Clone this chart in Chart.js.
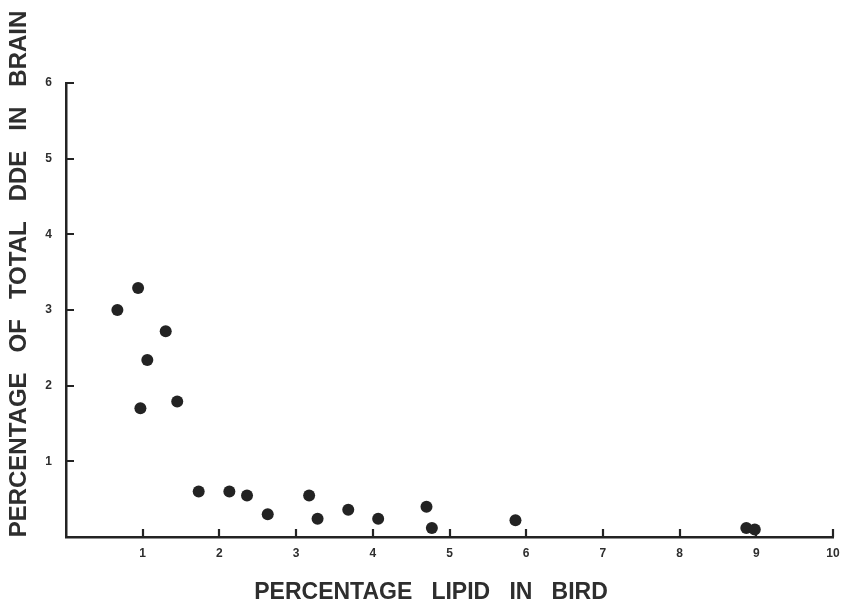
<!DOCTYPE html>
<html>
<head>
<meta charset="utf-8">
<title>DDE in brain vs lipid</title>
<script src="https://cdn.jsdelivr.net/npm/chart.js@4/dist/chart.umd.min.js"></script>
<style>
  html, body { margin: 0; padding: 0; background: #ffffff; }
  #wrap { width: 842px; height: 611px; position: relative; }
</style>
</head>
<body>
<div id="wrap"><canvas id="c" width="842" height="611"></canvas></div>
<script>
// Lipid content of each bird (%) and share of its total DDE found in the brain (%)
const lipidPct = [0.67, 0.94, 1.30, 1.06, 0.97, 1.45, 1.73, 2.13, 2.36, 2.63,
                  3.17, 3.28, 3.68, 4.07, 4.70, 4.77, 5.86, 8.87, 8.98];
const brainDdePct = [3.00, 3.29, 2.72, 2.34, 1.70, 1.79, 0.60, 0.60, 0.55, 0.30,
                     0.55, 0.24, 0.36, 0.24, 0.40, 0.12, 0.22, 0.12, 0.10];

const xTickValues = [1, 2, 3, 4, 5, 6, 7, 8, 9, 10];
const yTickValues = [1, 2, 3, 4, 5, 6];

const xTitle = 'PERCENTAGE   LIPID   IN   BIRD';
const yTitle = 'PERCENTAGE   OF   TOTAL   DDE   IN   BRAIN';

const INK = '#232323';
const TEXT = '#2e2e2e';
const FONT = '"Liberation Sans", Arial, sans-serif';

const points = lipidPct.map((x, i) => ({ x, y: brainDdePct[i] }));

// Short tick marks drawn on the inner side of both axes
const innerTicks = {
  id: 'innerTicks',
  afterDatasetsDraw(chart) {
    const { ctx, scales: { x, y } } = chart;
    ctx.save();
    ctx.strokeStyle = INK;
    ctx.lineWidth = 2.2;
    ctx.beginPath();
    xTickValues.forEach(v => {
      const px = Math.round(x.getPixelForValue(v));
      ctx.moveTo(px, x.top);
      ctx.lineTo(px, x.top - 8);
    });
    yTickValues.forEach(v => {
      const py = Math.round(y.getPixelForValue(v));
      ctx.moveTo(y.right, py);
      ctx.lineTo(y.right + 8, py);
    });
    ctx.stroke();
    ctx.restore();
  }
};

// Axis titles in the large bold lettering
const axisTitles = {
  id: 'axisTitles',
  afterDraw(chart) {
    const { ctx } = chart;
    ctx.save();
    ctx.fillStyle = TEXT;
    ctx.textAlign = 'center';
    ctx.textBaseline = 'middle';
    ctx.font = 'bold 23px ' + FONT;
    ctx.fillText(xTitle, 431, 593);
    ctx.font = 'bold 24px ' + FONT;
    ctx.translate(19, 274);
    ctx.rotate(-Math.PI / 2);
    ctx.fillText(yTitle, 0, 0);
    ctx.restore();
  }
};

new Chart(document.getElementById('c'), {
  type: 'scatter',
  data: {
    datasets: [{
      data: points,
      backgroundColor: INK,
      borderColor: INK,
      borderWidth: 0,
      pointRadius: 6,
      pointHoverRadius: 6,
      clip: false
    }]
  },
  options: {
    responsive: false,
    animation: false,
    devicePixelRatio: 1,
    layout: { padding: { top: 83, right: 9, bottom: 0, left: 0 } },
    plugins: {
      legend: { display: false },
      tooltip: { enabled: false },
      title: { display: false }
    },
    scales: {
      x: {
        type: 'linear',
        min: 0,
        max: 10,
        afterFit(scale) {
          scale.height = 74;
          scale.paddingLeft = 0;
          scale.paddingRight = 0;
        },
        afterBuildTicks(scale) { scale.ticks = xTickValues.map(v => ({ value: v })); },
        grid: { display: false, drawTicks: false },
        border: { display: true, color: INK, width: 2.5 },
        ticks: {
          padding: 9,
          color: TEXT,
          font: { family: FONT, size: 12, weight: 'bold' },
          maxRotation: 0
        }
      },
      y: {
        type: 'linear',
        min: 0,
        max: 6,
        afterFit(scale) { scale.width = 66; },
        afterBuildTicks(scale) { scale.ticks = yTickValues.map(v => ({ value: v })); },
        grid: { display: false, drawTicks: false },
        border: { display: true, color: INK, width: 2.5 },
        ticks: {
          padding: 14,
          color: TEXT,
          font: { family: FONT, size: 12, weight: 'bold' }
        }
      }
    }
  },
  plugins: [innerTicks, axisTitles]
});
</script>
</body>
</html>
